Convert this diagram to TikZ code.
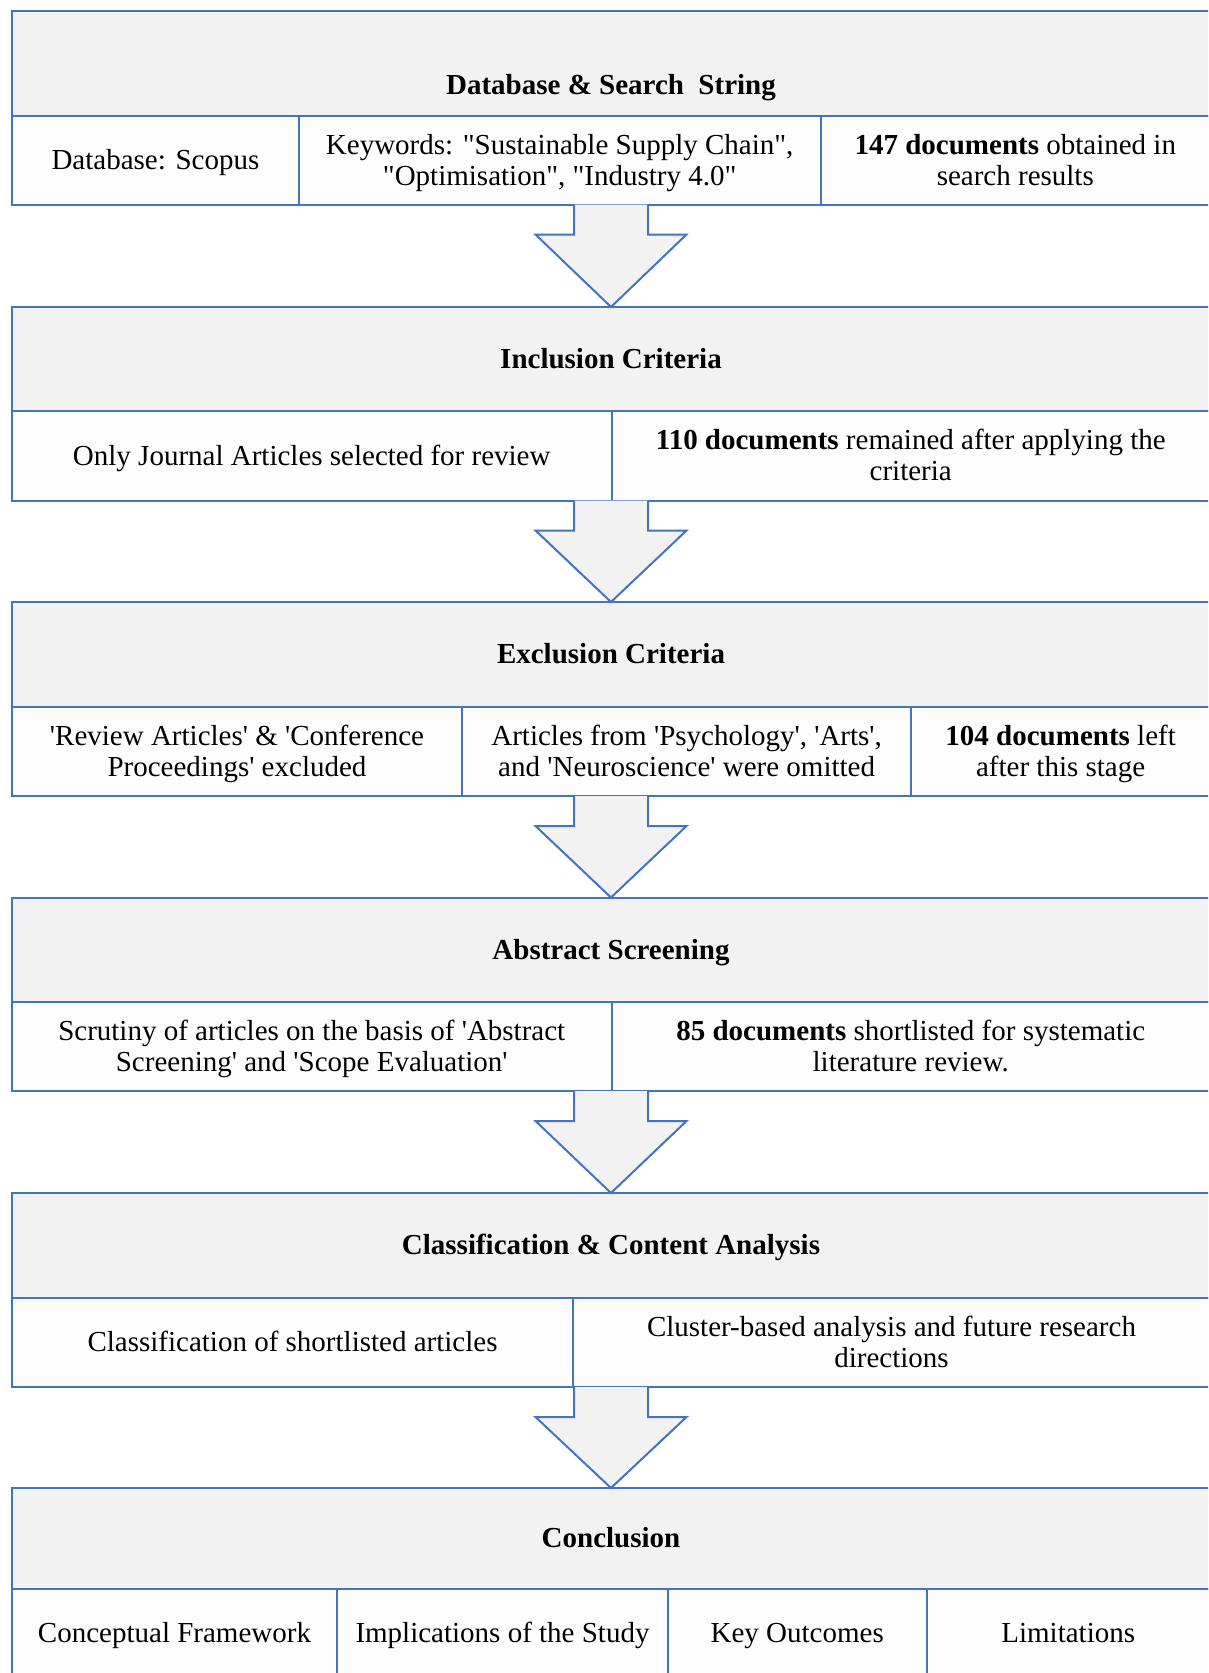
\documentclass[tikz,border=0pt]{standalone}
\usepackage{fontspec}
\setmainfont{Liberation Serif}[Ligatures=TeXOff]
\usetikzlibrary{calc}
\definecolor{bord}{HTML}{4472C4}
\definecolor{headfill}{HTML}{F2F2F2}
\definecolor{cellfill}{HTML}{FDFDFD}
\tikzset{
  base/.style={draw=bord, line width=2pt, inner sep=0pt, outer sep=0pt, anchor=north west,
    align=center, font=\fontsize{29}{31}\selectfont},
  headbox/.style={base, fill=headfill},
  cellbox/.style={base, fill=cellfill},
  blockarrow/.style={draw=bord, fill=headfill, line width=2pt, line join=miter},
}
% one line of text, smashed so that its cap height is centred in the cell
\newcommand\capline[1]{\smash{#1}}
\newcommand\capstrut{\rule{0pt}{19.3pt}}
\newcommand\cellat[6]{% name, x1, x2, y1, y2, text
  \node[cellbox, minimum width=#3pt-#2pt, minimum height=#5pt-#4pt] (#1) at (#2,#4) {\capstrut#6};}
\newcommand\headat[4]{% name, y1, y2, text
  \node[headbox, minimum width=1198pt, minimum height=#3pt-#2pt] (#1) at (12,#2) {\capstrut#4};}
\newcommand\flowarrow[2]{%
  \path[blockarrow] let \p1=(#1), \p2=(#2.north) in
   (\x1-37pt,\y1) -- (\x1-37pt,\y1-30pt) -- (\x1-75.5pt,\y1-30pt) -- (\x2,\y2)
   -- (\x1+75.5pt,\y1-30pt) -- (\x1+37pt,\y1-30pt) -- (\x1+37pt,\y1);}
\begin{document}
\begin{tikzpicture}[x=1pt,y=-1pt]
\useasboundingbox (0,0) rectangle (1208,1673);
\clip (0,0) rectangle (1208,1673);
\fill[white] (0,0) rectangle (1208,1673);

% Block 1
\headat{hd1}{11}{116}{\capline{\raisebox{-21pt}{\textbf{Database \& Search~ String}}}}
\cellat{c11}{12}{298.8}{116}{204.5}{\capline{Database: Scopus}}
\cellat{c12}{298.8}{820.6}{116}{204.5}{\capline{Keywords: "Sustainable Supply Chain",}\\ \capline{"Optimisation", "Industry 4.0"}}
\cellat{c13}{820.6}{1210}{116}{204.5}{\capline{\textbf{147 documents} obtained in}\\ \capline{search results}}
\coordinate (b1) at (611,204.5);

% Block 2
\headat{hd2}{307}{411}{\capline{\textbf{Inclusion Criteria}}}
\cellat{c21}{12}{611.5}{411}{500.5}{\capline{Only Journal Articles selected for review}}
\cellat{c22}{611.5}{1210}{411}{500.5}{\capline{\textbf{110 documents} remained after applying the}\\ \capline{criteria}}
\coordinate (b2) at (611,500.5);

% Block 3
\headat{hd3}{602}{706.5}{\capline{\textbf{Exclusion Criteria}}}
\cellat{c31}{12}{462}{706.5}{796}{\capline{'Review Articles' \& 'Conference}\\ \capline{Proceedings' excluded}}
\cellat{c32}{462}{911.3}{706.5}{796}{\capline{Articles from 'Psychology', 'Arts',}\\ \capline{and 'Neuroscience' were omitted}}
\cellat{c33}{911.3}{1210}{706.5}{796}{\capline{\textbf{104 documents} left}\\ \capline{after this stage}}
\coordinate (b3) at (611,796);

% Block 4
\headat{hd4}{897.5}{1002}{\capline{\textbf{Abstract Screening}}}
\cellat{c41}{12}{611.5}{1002}{1091}{\capline{Scrutiny of articles on the basis of 'Abstract}\\ \capline{Screening' and 'Scope Evaluation'}}
\cellat{c42}{611.5}{1210}{1002}{1091}{\capline{\textbf{85 documents} shortlisted for systematic}\\ \capline{literature review.}}
\coordinate (b4) at (611,1091);

% Block 5
\headat{hd5}{1193}{1297.5}{\capline{\textbf{Classification \& Content Analysis}}}
\cellat{c51}{12}{573}{1297.5}{1387}{\capline{Classification of shortlisted articles}}
\cellat{c52}{573}{1210}{1297.5}{1387}{\capline{Cluster-based analysis and future research}\\ \capline{directions}}
\coordinate (b5) at (611,1387);

% Block 6
\headat{hd6}{1488}{1588.5}{\capline{\textbf{Conclusion}}}
\cellat{c61}{12}{337}{1588.5}{1677}{\capline{Conceptual Framework}}
\cellat{c62}{337}{668}{1588.5}{1677}{\capline{Implications of the Study}}
\cellat{c63}{668}{926.5}{1588.5}{1677}{\capline{Key Outcomes}}
\cellat{c64}{926.5}{1210}{1588.5}{1677}{\capline{Limitations}}

% Arrows
\flowarrow{b1}{hd2}
\flowarrow{b2}{hd3}
\flowarrow{b3}{hd4}
\flowarrow{b4}{hd5}
\flowarrow{b5}{hd6}
\end{tikzpicture}
\end{document}
